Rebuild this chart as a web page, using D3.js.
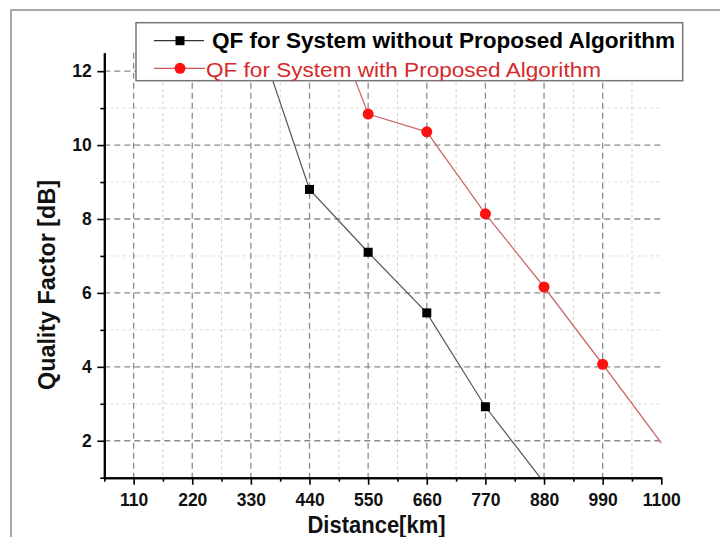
<!DOCTYPE html>
<html>
<head>
<meta charset="utf-8">
<script src="https://cdn.jsdelivr.net/npm/d3@7/dist/d3.min.js"></script>
<style>
  html, body { margin: 0; padding: 0; background: #fff; }
  svg { display: block; }
  text { font-family: Arial, "Liberation Sans", Helvetica, sans-serif; }
</style>
</head>
<body>
<svg id="chart" width="720" height="537"></svg>
<script>
// ---- data ----
const distances = [330, 440, 550, 660, 770, 880];
const qfWithout = [13.5, 8.80, 7.10, 5.46, 2.92, 0.87];
const distancesWith = [440, 550, 660, 770, 880, 990, 1210];
const qfWith = [15.0, 10.84, 10.36, 8.14, 6.16, 4.07, -0.19];
const xMajorTicks = [110, 220, 330, 440, 550, 660, 770, 880, 990, 1100];
const xMinorTicks = [55, 165, 275, 385, 495, 605, 715, 825, 935, 1045];
const yMajorTicks = [2, 4, 6, 8, 10, 12];
const yMinorTicks = [1, 3, 5, 7, 9, 11];
const seriesNames = ["QF for System without Proposed Algorithm", "QF for System with Proposed Algorithm"];
const xTitle = "Distance[km]";
const yTitle = "Quality Factor [dB]";

(function () {
const svg = d3.select("#chart");
const pL = 104.3, pR = 661.3, pT = 52.7, pB = 477.7;
const x = d3.scaleLinear().domain([55, 1100]).range([pL, pR]);
const y = d3.scaleLinear().domain([1, 12.5]).range([pB, pT]);

// outer frame
svg.append("rect").attr("x", 11).attr("y", 10).attr("width", 740).attr("height", 560)
  .attr("fill", "none").attr("stroke", "#a8a8a8").attr("stroke-width", 2);

// grid
const grid = svg.append("g");
grid.selectAll(".vminor").data(xMinorTicks.filter(d => d > 55)).enter().append("line")
  .attr("x1", d => x(d)).attr("x2", d => x(d)).attr("y1", pT).attr("y2", pB)
  .attr("stroke", "#cfcfcf").attr("stroke-width", 1).attr("stroke-dasharray", "3,3");
grid.selectAll(".hminor").data(yMinorTicks.filter(d => d > 1)).enter().append("line")
  .attr("x1", pL).attr("x2", pR).attr("y1", d => y(d)).attr("y2", d => y(d))
  .attr("stroke", "#dcdcdc").attr("stroke-width", 1).attr("stroke-dasharray", "3,3");
grid.selectAll(".vmajor").data(xMajorTicks.filter(d => d < 1100)).enter().append("line")
  .attr("x1", d => x(d)).attr("x2", d => x(d)).attr("y1", pT).attr("y2", pB)
  .attr("stroke", "#8a8a8a").attr("stroke-width", 1.3).attr("stroke-dasharray", "6,4");
grid.selectAll(".hmajor").data(yMajorTicks).enter().append("line")
  .attr("x1", pL).attr("x2", pR).attr("y1", d => y(d)).attr("y2", d => y(d))
  .attr("stroke", "#8a8a8a").attr("stroke-width", 1.3).attr("stroke-dasharray", "6,4");

// clip
svg.append("defs").append("clipPath").attr("id", "plotclip")
  .append("rect").attr("x", pL).attr("y", pT).attr("width", pR - pL).attr("height", pB - pT);
const plot = svg.append("g").attr("clip-path", "url(#plotclip)");

const line = d3.line().x(d => x(d[0])).y(d => y(d[1]));
const dataWithout = distances.map((d, i) => [d, qfWithout[i]]);
const dataWith = distancesWith.map((d, i) => [d, qfWith[i]]);

plot.append("path").datum(dataWithout).attr("d", line)
  .attr("fill", "none").attr("stroke", "#555").attr("stroke-width", 1.2);
plot.append("path").datum(dataWith).attr("d", line)
  .attr("fill", "none").attr("stroke", "#cc6b6b").attr("stroke-width", 1.3);

const sq = 9;
plot.selectAll(".sq").data(dataWithout).enter().append("rect")
  .attr("x", d => x(d[0]) - sq / 2).attr("y", d => y(d[1]) - sq / 2)
  .attr("width", sq).attr("height", sq).attr("fill", "#000");
plot.selectAll(".ci").data(dataWith).enter().append("circle")
  .attr("cx", d => x(d[0])).attr("cy", d => y(d[1])).attr("r", 5.5).attr("fill", "#ff1010");

// axes
function styleAxis(g) {
  g.select(".domain").attr("stroke", "#000").attr("stroke-width", 2);
  g.selectAll(".tick line").attr("stroke", "#000").attr("stroke-width", 1.6);
  g.selectAll("text").attr("font-size", 17.5).attr("font-weight", "bold")
    .attr("font-family", "Arial, 'Liberation Sans', sans-serif").attr("fill", "#111");
}
const xMinorAxis = svg.append("g").attr("transform", `translate(0,${pB})`)
  .call(d3.axisBottom(x).tickValues(xMinorTicks).tickSize(4).tickSizeOuter(0).tickFormat(""));
styleAxis(xMinorAxis);
const xAxis = svg.append("g").attr("transform", `translate(0,${pB})`)
  .call(d3.axisBottom(x).tickValues(xMajorTicks).tickSize(7).tickPadding(9).tickSizeOuter(0).tickFormat(d3.format("d")));
styleAxis(xAxis);
const yMinorAxis = svg.append("g").attr("transform", `translate(${pL},0)`)
  .call(d3.axisLeft(y).tickValues(yMinorTicks).tickSize(4).tickSizeOuter(0).tickFormat(""));
styleAxis(yMinorAxis);
const yAxis = svg.append("g").attr("transform", `translate(${pL},0)`)
  .call(d3.axisLeft(y).tickValues(yMajorTicks).tickSize(7).tickPadding(5.5).tickSizeOuter(0).tickFormat(d3.format("d")));
styleAxis(yAxis);

// titles
svg.append("text").attr("x", 376.5).attr("y", 533).attr("text-anchor", "middle")
  .attr("font-size", 23).attr("font-weight", "bold").attr("fill", "#111")
  .attr("textLength", 138).attr("lengthAdjust", "spacingAndGlyphs").text(xTitle);
svg.append("text").attr("transform", "translate(55,285) rotate(-90)").attr("text-anchor", "middle")
  .attr("font-size", 23).attr("font-weight", "bold").attr("fill", "#111")
  .attr("textLength", 210).attr("lengthAdjust", "spacingAndGlyphs").text(yTitle);

// legend
const lg = svg.append("g");
lg.append("rect").attr("x", 136).attr("y", 22.7).attr("width", 546.7).attr("height", 58)
  .attr("fill", "#fff").attr("stroke", "#777").attr("stroke-width", 1.5);
lg.append("line").attr("x1", 154).attr("x2", 204).attr("y1", 40.7).attr("y2", 40.7)
  .attr("stroke", "#333").attr("stroke-width", 1.2);
lg.append("rect").attr("x", 180 - sq / 2).attr("y", 40.7 - sq / 2).attr("width", sq).attr("height", sq).attr("fill", "#000");
lg.append("text").attr("x", 212).attr("y", 47.5).attr("font-size", 21.5).attr("font-weight", "bold").attr("fill", "#000")
  .attr("textLength", 463).attr("lengthAdjust", "spacingAndGlyphs").text(seriesNames[0]);
lg.append("line").attr("x1", 154).attr("x2", 205).attr("y1", 68.3).attr("y2", 68.3)
  .attr("stroke", "#cc5555").attr("stroke-width", 1.3);
lg.append("circle").attr("cx", 180).attr("cy", 68.3).attr("r", 5.5).attr("fill", "#ff1010");
lg.append("text").attr("x", 206).attr("y", 76.5).attr("font-size", 21).attr("fill", "#d42a2a")
  .attr("textLength", 395).attr("lengthAdjust", "spacingAndGlyphs").text(seriesNames[1]);
})();
</script>
</body>
</html>
